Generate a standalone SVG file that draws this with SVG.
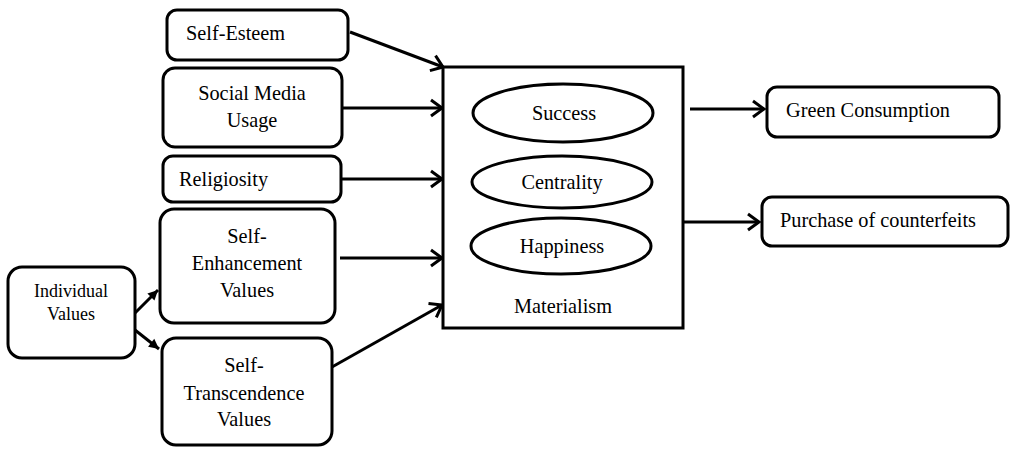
<svg xmlns="http://www.w3.org/2000/svg" width="1010" height="449" viewBox="0 0 1010 449">
<style>
.box{fill:#fff;stroke:#000;stroke-width:3}
.t{font-family:'Liberation Serif','Times New Roman','DejaVu Serif',serif;font-size:20.3px;fill:#000}
.s{font-size:18px}
.c{text-anchor:middle}
.ln{stroke:#000;stroke-width:3;fill:none}
</style>
<defs>
<marker id="chev" markerUnits="userSpaceOnUse" markerWidth="20" markerHeight="20" viewBox="-14 -10 16 20" refX="0" refY="0" orient="auto">
<path d="M-11,-8 L0,0 L-11,8" fill="none" stroke="#000" stroke-width="3"/>
</marker>
<marker id="tri" markerUnits="userSpaceOnUse" markerWidth="14" markerHeight="14" viewBox="-12 -6 14 12" refX="0" refY="0" orient="auto">
<path d="M-10,-5 L0,0 L-10,5 Z" fill="#000"/>
</marker>
</defs>
<g id="connectors">
<line class="ln" x1="350" y1="32" x2="443" y2="67" marker-end="url(#chev)"/>
<line class="ln" x1="342" y1="108" x2="442" y2="108" marker-end="url(#chev)"/>
<line class="ln" x1="342" y1="179" x2="442" y2="179" marker-end="url(#chev)"/>
<line class="ln" x1="340" y1="258" x2="442" y2="258" marker-end="url(#chev)"/>
<line class="ln" x1="332" y1="367" x2="442" y2="305" marker-end="url(#chev)"/>
<line class="ln" x1="135" y1="313" x2="158" y2="290" marker-end="url(#tri)"/>
<line class="ln" x1="135" y1="330" x2="159" y2="349" marker-end="url(#tri)"/>
<line class="ln" x1="690" y1="109" x2="764" y2="109" marker-end="url(#chev)"/>
<line class="ln" x1="683" y1="222" x2="759" y2="222" marker-end="url(#chev)"/>
</g>
<g id="self-esteem">
<rect class="box" x="167" y="10" width="181" height="50" rx="10"/>
<text class="t" x="186" y="40">Self-Esteem</text>
</g>
<g id="social-media">
<rect class="box" x="163" y="68" width="179" height="79" rx="12"/>
<text class="t c" x="252" y="100">Social Media</text>
<text class="t c" x="252" y="127">Usage</text>
</g>
<g id="religiosity">
<rect class="box" x="163" y="156" width="178" height="46" rx="10"/>
<text class="t" x="179" y="186">Religiosity</text>
</g>
<g id="self-enhancement">
<rect class="box" x="160" y="209" width="175" height="114" rx="14"/>
<text class="t c" x="247" y="243">Self-</text>
<text class="t c" x="247" y="270">Enhancement</text>
<text class="t c" x="247" y="297">Values</text>
</g>
<g id="self-transcendence">
<rect class="box" x="162" y="338" width="170" height="107" rx="14"/>
<text class="t c" x="244" y="372">Self-</text>
<text class="t c" x="244" y="400">Transcendence</text>
<text class="t c" x="244" y="426">Values</text>
</g>
<g id="individual-values">
<rect class="box" x="8" y="267" width="127" height="91" rx="14"/>
<text class="t s c" x="71" y="297">Individual</text>
<text class="t s c" x="71" y="320">Values</text>
</g>
<g id="materialism">
<rect class="box" x="443" y="67" width="240" height="261"/>
<ellipse class="box" cx="563" cy="113" rx="90" ry="29"/>
<text class="t c" x="564" y="120">Success</text>
<ellipse class="box" cx="562" cy="182" rx="90" ry="26"/>
<text class="t c" x="562" y="189">Centrality</text>
<ellipse class="box" cx="561" cy="246" rx="90" ry="28"/>
<text class="t c" x="562" y="253">Happiness</text>
<text class="t c" x="563" y="313">Materialism</text>
</g>
<g id="green-consumption">
<rect class="box" x="767" y="87" width="232" height="50" rx="10"/>
<text class="t" x="786" y="117">Green Consumption</text>
</g>
<g id="purchase-counterfeits">
<rect class="box" x="762" y="197" width="246" height="49" rx="10"/>
<text class="t" x="780" y="227">Purchase of counterfeits</text>
</g>
</svg>
